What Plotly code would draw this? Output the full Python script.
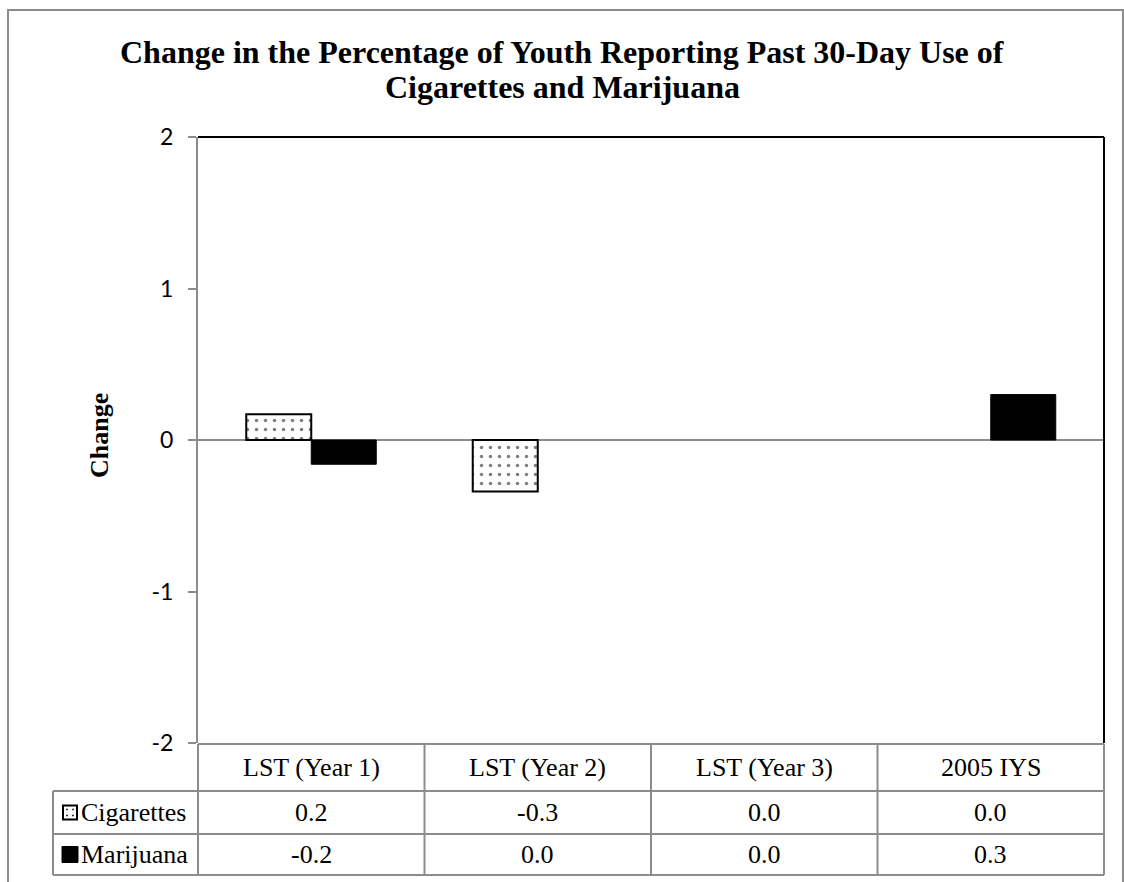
import plotly.graph_objects as go

# Survey waves and change in percentage points for each substance
categories = ["LST (Year 1)", "LST (Year 2)", "LST (Year 3)", "2005 IYS"]
cigarettes = [0.17, -0.34, 0.0, 0.0]
marijuana = [-0.16, 0.0, 0.0, 0.30]
series_names = ["Cigarettes", "Marijuana"]
y_ticks = [-2, -1, 0, 1, 2]
y_tick_text = ["-2", "-1", "0", "1", "2"]
title_lines = ["Change in the Percentage of Youth Reporting Past 30-Day Use of",
               "Cigarettes and Marijuana"]

W, H = 1124, 882
L, R, T, B = 198, 20, 137, 139
PW, PH = W - L - R, H - T - B
GRAY = "#8c8c8c"
SERIF = "Liberation Serif, Times New Roman, serif"
TABLE_FONT = dict(family=SERIF, size=26, color="black")


def px(x):
    return (x - L) / PW


def py(y):
    return (H - B - y) / PH


def edge(vals, w):
    # no outline on zero-height bars so the zero line stays clean
    return [w if v != 0 else 0 for v in vals]


fig = go.Figure()
fig.add_trace(go.Bar(
    x=categories, y=cigarettes, name=series_names[0],
    marker=dict(color="white", line=dict(color="black", width=edge(cigarettes, 2)),
                pattern=dict(shape=".", fgcolor="black", bgcolor="white",
                             size=9, solidity=0.12)),
))
fig.add_trace(go.Bar(
    x=categories, y=marijuana, name=series_names[1],
    marker=dict(color="black", line=dict(color="black", width=edge(marijuana, 1))),
))

shapes = []
ann = []

# chart title, one annotation per line
for text, yc in zip(title_lines, [52, 87]):
    ann.append(dict(x=px(W / 2), xref="paper", xanchor="center", y=py(yc), yref="paper",
                    yanchor="middle", text=f"<b>{text}</b>", showarrow=False,
                    font=dict(family=SERIF, size=32, color="black")))

# plot frame: black top and right edges
shapes.append(dict(type="line", xref="paper", yref="paper", x0=0, x1=1, y0=1, y1=1,
                   line=dict(color="black", width=2)))
shapes.append(dict(type="line", xref="paper", yref="paper", x0=1, x1=1, y0=0, y1=1,
                   line=dict(color="black", width=2)))

# outer chart border
shapes.append(dict(type="rect", xref="paper", yref="paper",
                   x0=px(8), x1=px(1123), y0=py(10), y1=py(895),
                   line=dict(color=GRAY, width=2), fillcolor="rgba(0,0,0,0)"))

# data table grid
row_lines = [744, 791, 834, 875]
table_left = 53
for i, yy in enumerate(row_lines):
    x0 = L if i == 0 else table_left
    shapes.append(dict(type="line", xref="paper", yref="paper",
                       x0=px(x0), x1=1, y0=py(yy), y1=py(yy),
                       line=dict(color=GRAY, width=2)))
n = len(categories)
for k in range(n + 1):
    shapes.append(dict(type="line", xref="paper", yref="paper",
                       x0=k / n, x1=k / n, y0=py(row_lines[0]), y1=py(row_lines[-1]),
                       line=dict(color=GRAY, width=2)))
shapes.append(dict(type="line", xref="paper", yref="paper",
                   x0=px(table_left), x1=px(table_left), y0=py(row_lines[1]), y1=py(row_lines[-1]),
                   line=dict(color=GRAY, width=2)))

# table header and values
row_centers = [(row_lines[i] + row_lines[i + 1]) / 2 for i in range(3)]
for c in categories:
    ann.append(dict(x=c, xref="x", xanchor="center", y=py(row_centers[0]), yref="paper",
                    yanchor="middle", text=c, showarrow=False, font=TABLE_FONT))
for r, vals in enumerate([cigarettes, marijuana]):
    for c, v in zip(categories, vals):
        ann.append(dict(x=c, xref="x", xanchor="center", y=py(row_centers[r + 1]),
                        yref="paper", yanchor="middle",
                        text=f"{v:.1f}".replace("-0.0", "0.0"),
                        showarrow=False, font=TABLE_FONT))
    ann.append(dict(x=px(79), xref="paper", xanchor="left", y=py(row_centers[r + 1]),
                    yref="paper", yanchor="middle", text=series_names[r], showarrow=False,
                    font=TABLE_FONT))

# legend keys inside the table
kc = row_centers[1]
shapes.append(dict(type="rect", xref="paper", yref="paper",
                   x0=px(63), x1=px(77), y0=py(kc - 7), y1=py(kc + 7),
                   line=dict(color="black", width=2), fillcolor="white"))
for dx, dy in [(67, kc - 3), (73, kc - 3), (67, kc + 3), (73, kc + 3)]:
    shapes.append(dict(type="rect", xref="paper", yref="paper",
                       x0=px(dx - 0.8), x1=px(dx + 0.8), y0=py(dy - 0.8), y1=py(dy + 0.8),
                       line=dict(width=0), fillcolor="black"))
kc = row_centers[2]
shapes.append(dict(type="rect", xref="paper", yref="paper",
                   x0=px(62), x1=px(78), y0=py(kc - 8), y1=py(kc + 8),
                   line=dict(color="black", width=1), fillcolor="black"))

# y axis title
ann.append(dict(x=px(99), xref="paper", xanchor="center", y=py(436), yref="paper",
                yanchor="middle", text="<b>Change</b>", textangle=-90, showarrow=False,
                font=dict(family=SERIF, size=26, color="black")))

fig.update_layout(
    width=W, height=H,
    margin=dict(l=L, r=R, t=T, b=B, pad=0),
    paper_bgcolor="white", plot_bgcolor="white",
    barmode="group", bargap=0.426, bargroupgap=0,
    showlegend=False,
    xaxis=dict(range=[-0.5, 3.5], showticklabels=False, showline=False,
               showgrid=False, zeroline=False, ticks=""),
    yaxis=dict(range=[-2, 2], tickvals=y_ticks, ticktext=y_tick_text, showgrid=False,
               showline=True, linecolor=GRAY, linewidth=2,
               ticks="outside", ticklen=8, tickwidth=2, tickcolor=GRAY,
               ticklabelstandoff=10,
               zeroline=True, zerolinecolor=GRAY, zerolinewidth=2,
               tickfont=dict(family="Lato, Carlito, sans-serif", size=23, color="black")),
    shapes=shapes, annotations=ann,
)

fig.write_html("out.html")
